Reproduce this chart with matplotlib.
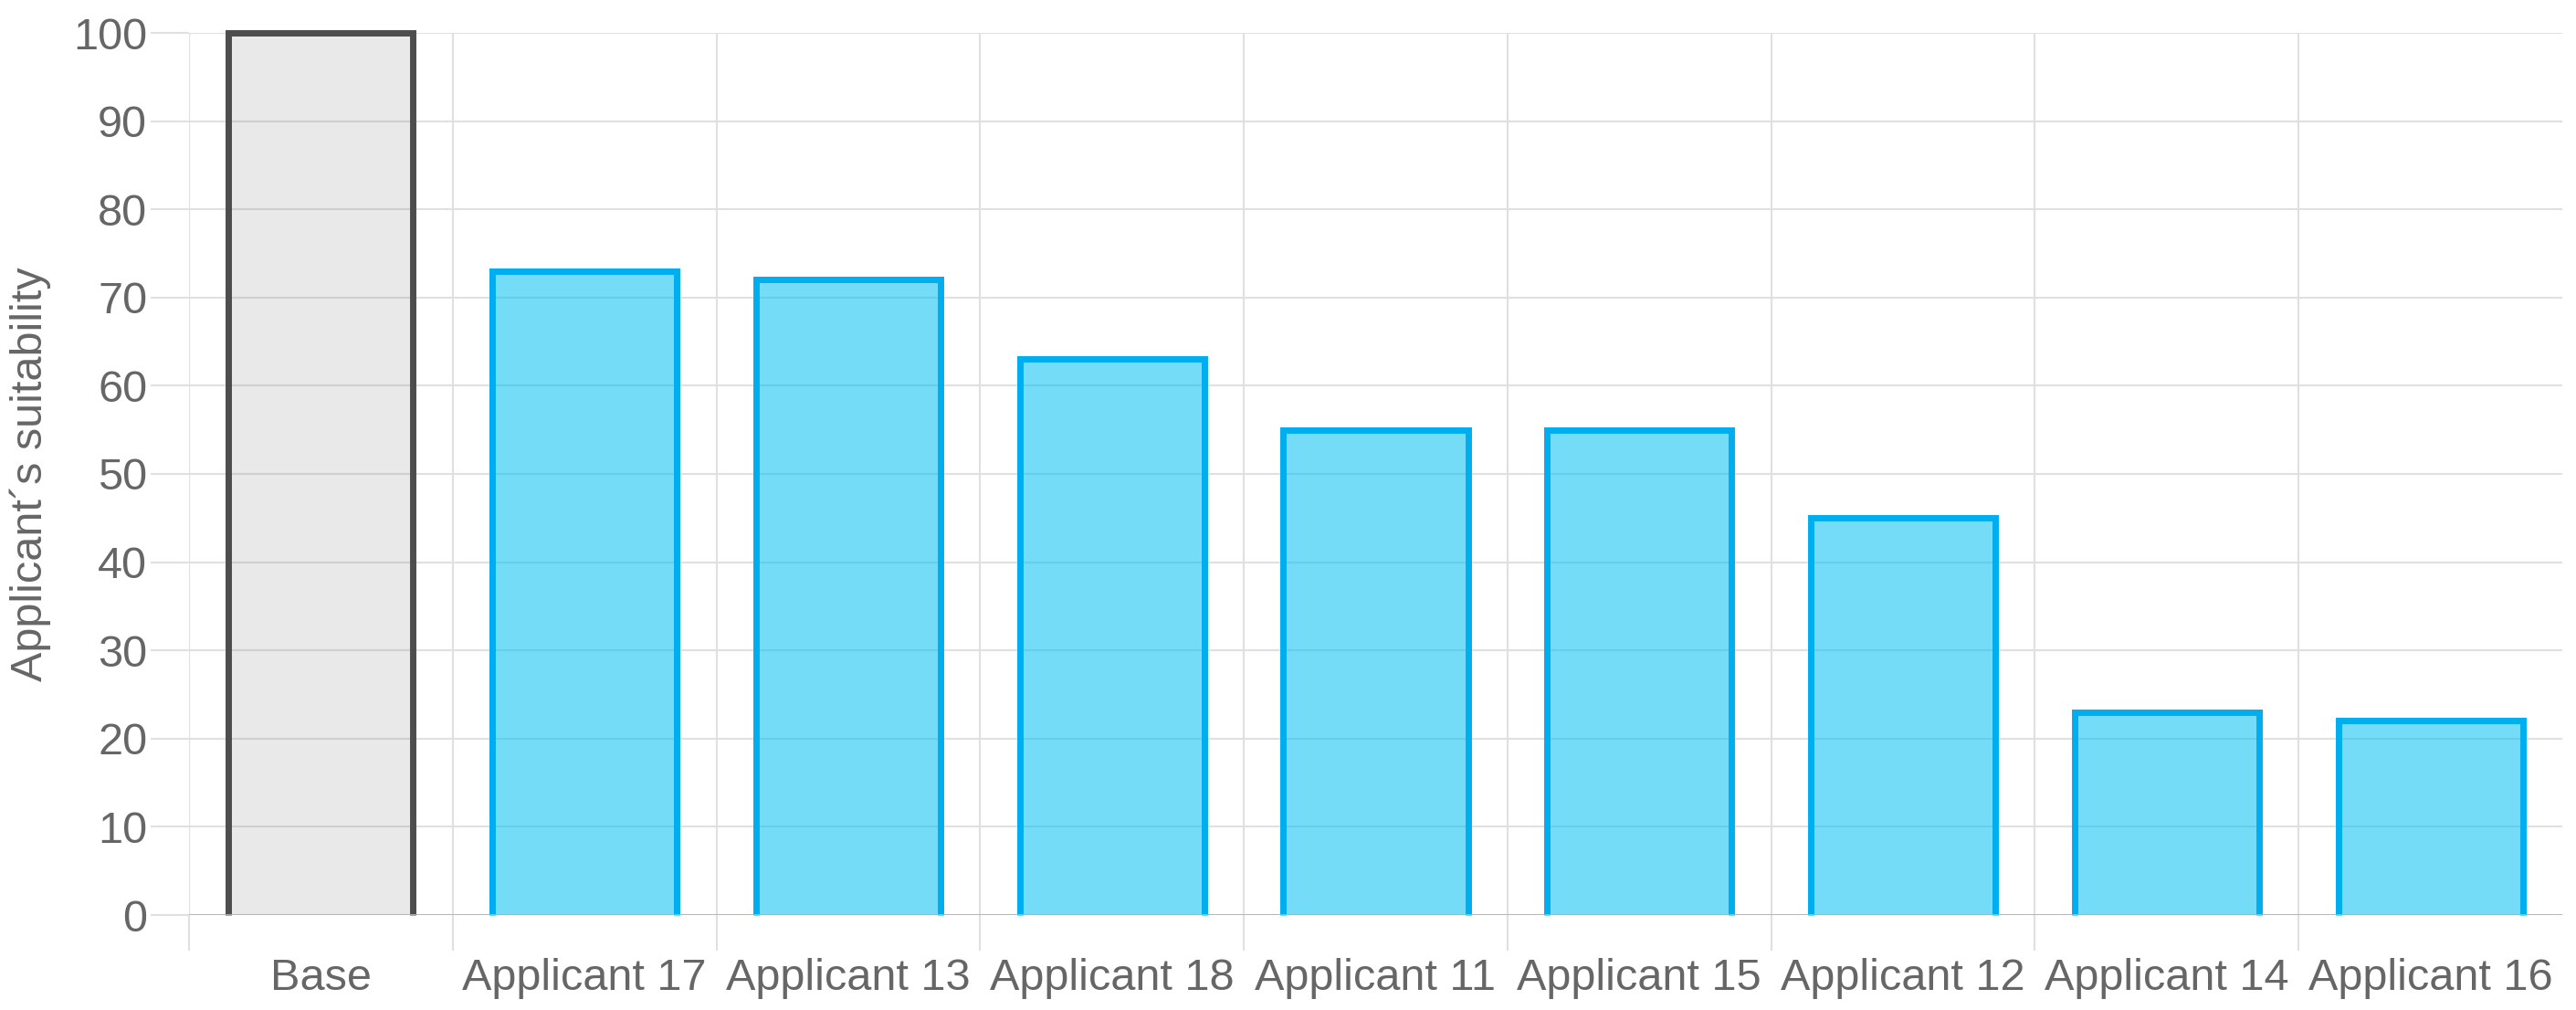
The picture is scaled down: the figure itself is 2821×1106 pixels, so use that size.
import numpy as np
import matplotlib
matplotlib.use("Agg")
import matplotlib.pyplot as plt

# data
categories = ["Base", "Applicant 17", "Applicant 13", "Applicant 18", "Applicant 11",
              "Applicant 15", "Applicant 12", "Applicant 14", "Applicant 16"]
suitability = [100, 73, 72, 63, 55, 55, 45, 23, 22]
y_ticks = [0, 10, 20, 30, 40, 50, 60, 70, 80, 90, 100]

BLUE_EDGE = "#00aef0"
BLUE_FILL = (0.0, 0.75, 0.95, 0.545)
GREY_EDGE = "#4d4d4d"
GREY_FILL = (0.5, 0.5, 0.5, 0.17)
GRID = "#e0e0e0"
TEXT = "#666666"

plt.rcParams["font.family"] = ["Liberation Sans", "DejaVu Sans"]

W, H, DPI = 2821, 1106, 100
fig = plt.figure(figsize=(W / DPI, H / DPI), dpi=DPI)
# axes placed in pixel terms: y-axis at x=207, right edge 2806, 100 at y=36, 0 at y=1002
ax = fig.add_axes([207 / W, (H - 1002) / H, (2806 - 207) / W, (1002 - 36) / H])

x = np.arange(len(categories))
width = 0.7
lw = 5.0  # ~7 px

face = [GREY_FILL] + [BLUE_FILL] * (len(categories) - 1)
edge = [GREY_EDGE] + [BLUE_EDGE] * (len(categories) - 1)

ax.bar(x, suitability, width=width, color=face, linewidth=0, zorder=3)
# outline on left, top, right only (no bottom edge)
for xi, v, c in zip(x, suitability, edge):
    x0, x1 = xi - width / 2, xi + width / 2
    ax.plot([x0, x0, x1, x1], [0, v, v, 0], color=c, lw=lw,
            solid_joinstyle="miter", solid_capstyle="butt", zorder=4, clip_on=False)

ax.set_xlim(-0.5, len(categories) - 0.5)
ax.set_ylim(0, 100)

for s in ax.spines.values():
    s.set_visible(False)

# horizontal grid + ticks sticking out to the left
ax.set_yticks(y_ticks)
ax.tick_params(axis="y", which="major", length=30, width=1.5, color=GRID,
               labelsize=35, labelcolor=TEXT, pad=3)
ax.grid(axis="y", which="major", color=GRID, lw=1.5, zorder=1)

# vertical grid at category boundaries, sticking out below
ax.set_xticks(x)
ax.set_xticklabels(categories)
ax.set_xticks(np.arange(-0.5, len(categories) - 1), minor=True)
ax.tick_params(axis="x", which="major", length=0, labelsize=35, labelcolor=TEXT, pad=34)
ax.tick_params(axis="x", which="minor", length=28, width=1.5, color=GRID)
ax.grid(axis="x", which="minor", color=GRID, lw=1.5, zorder=1)

# darker zero lines
ax.axhline(0, color="#b3b3b3", lw=2, zorder=5)
ax.axvline(-0.5, color="#c8c8c8", lw=1.5, zorder=1)

fig.text(33 / W, 1 - 519 / H, "Applicant\u00b4s suitability", rotation=90,
         ha="center", va="center", fontsize=35, color=TEXT)

fig.savefig("out.png", dpi=DPI, facecolor="white")
